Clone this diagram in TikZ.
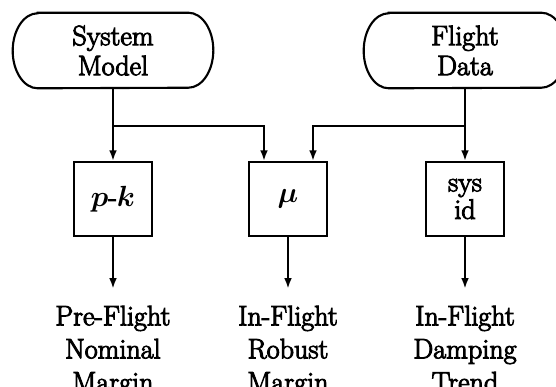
\documentclass[tikz,border=0pt]{standalone}
\usepackage{fontspec}
\usepackage{tikz}
\usetikzlibrary{arrows.meta,calc}
\newfontfamily\heavyrm{Latin Modern Roman}[FakeBold=3.5]
\newcommand{\bigrm}{\fontsize{20}{21.3}\selectfont\heavyrm\boldmath}
\newcommand{\tightrm}{\fontsize{20}{19.5}\selectfont\heavyrm}
\def\stadium(#1){\draw[line] ($(#1.north west)+(25,0)$) -- ($(#1.north east)+(-25,0)$) arc[start angle=90,end angle=-90,x radius=0.625cm,y radius=0.9375cm] -- ($(#1.south west)+(25,0)$) arc[start angle=270,end angle=90,x radius=0.625cm,y radius=0.9375cm] -- cycle;}

\begin{document}
\begin{tikzpicture}[x=0.025cm, y=0.025cm,
		line/.style={line width=1.5pt},
		arr/.style={line width=1.5pt, -{Latex[length=7.5pt,width=5.5pt]}},
		src/.style={minimum height=1.875cm, inner sep=0pt, align=center, font=\bigrm},
		blk/.style={draw, line width=1.5pt, minimum width=1.95cm, minimum height=1.85cm, inner sep=0pt, align=center, font=\bigrm},
		lbl/.style={inner sep=0pt, align=center, anchor=north, font=\fontsize{20}{23.5}\selectfont\heavyrm}]
		%%%%% START %%%%%
		
		\useasboundingbox (0,0) rectangle (556,-386);
		
		\node[src, minimum width=5cm] (sm) at (113,-50.5) {System\\Model};
		\node[src, minimum width=5.05cm] (fd) at (465,-50.5) {Flight\\Data};
		\stadium(sm)
		\stadium(fd)
		
		\node[blk] (pk) at (113,-199) {$p$-$k$};
		\node[blk] (mu) at (288,-199) {$\mu$};
		\node[blk, font=\tightrm] (sid) at (465,-199) {sys\\id};
		
		\coordinate (mul) at ($(mu.north)+(-24,0)$);
		\coordinate (mur) at ($(mu.north)+(25,0)$);
		
		\draw[arr] (sm.south) -- (pk.north);
		\draw[arr] (sm.south) -- ++(0,-38) -| (mul);
		\draw[arr] (fd.south) -- (sid.north);
		\draw[arr] (fd.south) -- ++(0,-38) -| (mur);
		
		\node[lbl] (pfn) at (113,-305.5) {Pre-Flight\\Nominal\\Margin};
		\node[lbl] (ifr) at (288,-305.5) {In-Flight\\Robust\\Margin};
		\node[lbl] (ifd) at (465,-305.5) {In-Flight\\Damping\\Trend};
		
		\draw[arr, shorten >=0.42cm] (pk.south) -- (pfn.north);
		\draw[arr, shorten >=0.42cm] (mu.south) -- (ifr.north);
		\draw[arr, shorten >=0.42cm] (sid.south) -- (ifd.north);
		
		%%%%% END %%%%%
	\end{tikzpicture}
\end{document}
